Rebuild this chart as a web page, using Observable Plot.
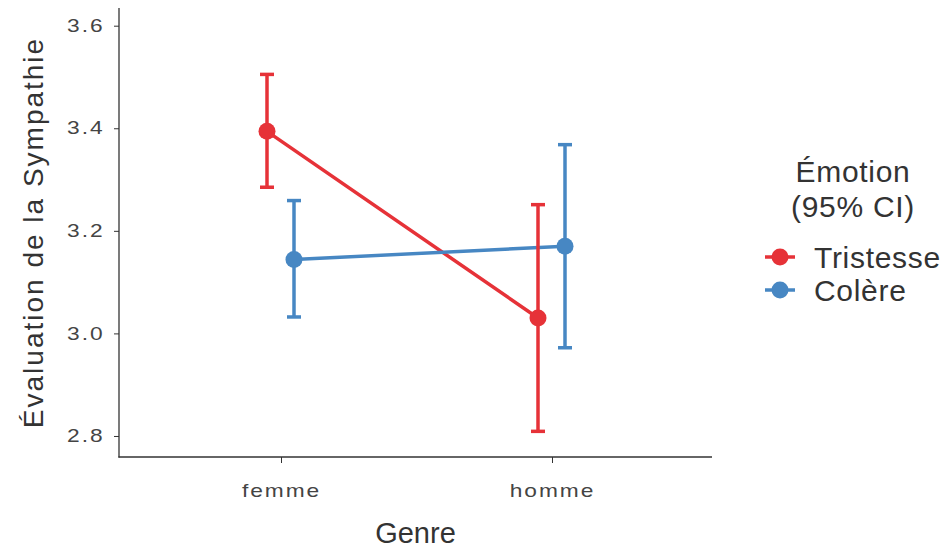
<!DOCTYPE html>
<html>
<head>
<meta charset="utf-8">
<script src="https://cdn.jsdelivr.net/npm/d3@7"></script>
<script src="https://cdn.jsdelivr.net/npm/@observablehq/plot@0.6"></script>
<style>
  html, body { margin: 0; padding: 0; background: #fff; }
  #wrap { position: relative; width: 944px; height: 549px; font-family: "Liberation Sans", Arial, sans-serif; }
  #wrap svg.plot { position: absolute; left: 0; top: 0; }
  #overlay { position: absolute; left: 0; top: 0; pointer-events: none; }
</style>
</head>
<body>
<div id="wrap"></div>
<script>
// ---- data ----
const genres = ["femme", "homme"];
const emotions = ["Tristesse", "Colère"];
const colors = ["#e63238", "#4787c3"];
const tristesseMean = [3.395, 3.031];
const tristesseLow  = [3.286, 2.810];
const tristesseHigh = [3.506, 3.252];
const colereMean = [3.145, 3.171];
const colereLow  = [3.033, 2.973];
const colereHigh = [3.260, 3.369];
const yTicks = [2.8, 3.0, 3.2, 3.4, 3.6];
const xTitle = "Genre";
const yTitle = "Évaluation de la Sympathie";
const legendTitle = ["Émotion", "(95% CI)"];

const series = [
  {emotion: emotions[0], mean: tristesseMean, low: tristesseLow, high: tristesseHigh},
  {emotion: emotions[1], mean: colereMean, low: colereLow, high: colereHigh}
];
const rows = series.flatMap(s => genres.map((g, j) => ({
  emotion: s.emotion, genre: g, mean: s.mean[j], low: s.low[j], high: s.high[j]
})));

const W = 944, H = 549;
const mL = 119, mR = 232, mT = 8, mB = 92;
const dodge = [-13.5, 13.5];
const lw = 3.5;
const capSymbol = {draw(ctx, size) { const w = Math.sqrt(size / Math.PI); ctx.moveTo(-w, 0); ctx.lineTo(w, 0); }};

const marks = [
  Plot.axisY({ticks: yTicks, tickFormat: d3.format(".1f"), tickSize: 5, tickPadding: 10, label: null, stroke: "#333", fill: "#444"}),
  Plot.axisX({tickSize: 6, tickPadding: 21, label: null, stroke: "#333", fill: "#444", dx: 1})
];
series.forEach((s, i) => {
  const f = d => d.emotion === s.emotion;
  marks.push(Plot.line(rows, {filter: f, x: "genre", y: "mean", stroke: colors[i], strokeWidth: lw, dx: dodge[i]}));
});
series.forEach((s, i) => {
  const f = d => d.emotion === s.emotion;
  marks.push(
    Plot.ruleX(rows, {filter: f, x: "genre", y1: "low", y2: "high", stroke: colors[i], strokeWidth: lw, dx: dodge[i]}),
    Plot.dot(rows, {filter: f, x: "genre", y: "low", symbol: capSymbol, r: 7, stroke: colors[i], strokeWidth: lw, dx: dodge[i]}),
    Plot.dot(rows, {filter: f, x: "genre", y: "high", symbol: capSymbol, r: 7, stroke: colors[i], strokeWidth: lw, dx: dodge[i]})
  );
});
series.forEach((s, i) => {
  const f = d => d.emotion === s.emotion;
  marks.push(Plot.dot(rows, {filter: f, x: "genre", y: "mean", r: 8.5, fill: colors[i], stroke: "none", dx: dodge[i]}));
});

const chart = Plot.plot({
  width: W, height: H,
  marginLeft: mL, marginRight: mR, marginTop: mT, marginBottom: mB,
  style: {fontFamily: "'Liberation Sans', Arial, sans-serif", fontSize: "18px", color: "#444", background: "white"},
  x: {type: "point", domain: genres, padding: 0.592, label: null},
  y: {domain: [2.759, 3.6345], label: null},
  marks
});
chart.classList.add("plot");
const wrap = document.getElementById("wrap");
wrap.appendChild(chart);

// widen tick label glyphs to match the reference
d3.select(chart).selectAll('[aria-label="y-axis tick label"] text, [aria-label="x-axis tick label"] text').each(function() {
  const t = this.getAttribute("transform") || "";
  this.setAttribute("transform", t + " scale(1.3,1)");
  this.style.fontSize = "17.5px";
  this.style.letterSpacing = "1.5px";
  this.style.fontFamily = "'Liberation Sans', Arial, sans-serif";
  this.style.fontVariant = "normal";
});

// axis lines + titles + legend overlay
const xs = chart.scale("x"), ys = chart.scale("y");
const ov = d3.select(wrap).append("svg").attr("id", "overlay").attr("width", W).attr("height", H);
const x0 = xs.range[0], x1 = xs.range[1];
const yb = ys.range[0], yt = ys.range[1];
ov.append("line").attr("x1", x0).attr("x2", x0).attr("y1", yt).attr("y2", yb + 0.6).attr("stroke", "#333").attr("stroke-width", 1.3);
ov.append("line").attr("x1", x0 - 0.6).attr("x2", x1).attr("y1", yb).attr("y2", yb).attr("stroke", "#333").attr("stroke-width", 1.3);

ov.append("text").text(xTitle).attr("x", (x0 + x1) / 2).attr("y", 543)
  .attr("text-anchor", "middle").attr("font-size", 29).attr("fill", "#333");
ov.append("text").text(yTitle).attr("transform", `translate(43,${(yt + yb) / 2}) rotate(-90)`)
  .attr("text-anchor", "middle").attr("font-size", 28).attr("letter-spacing", 2).attr("fill", "#333");

const lg = ov.append("g");
legendTitle.forEach((t, k) => {
  lg.append("text").text(t).attr("x", 853).attr("y", 182 + k * 35)
    .attr("text-anchor", "middle").attr("font-size", 30).attr("letter-spacing", 0.7).attr("fill", "#333");
});
emotions.forEach((e, i) => {
  const y = 257 + i * 33;
  lg.append("line").attr("x1", 765).attr("x2", 795).attr("y1", y).attr("y2", y).attr("stroke", colors[i]).attr("stroke-width", lw);
  lg.append("circle").attr("cx", 780).attr("cy", y).attr("r", 8.5).attr("fill", colors[i]);
  lg.append("text").text(e).attr("x", 814).attr("y", y + 11).attr("font-size", 30).attr("letter-spacing", 0.7).attr("fill", "#333");
});
</script>
</body>
</html>
